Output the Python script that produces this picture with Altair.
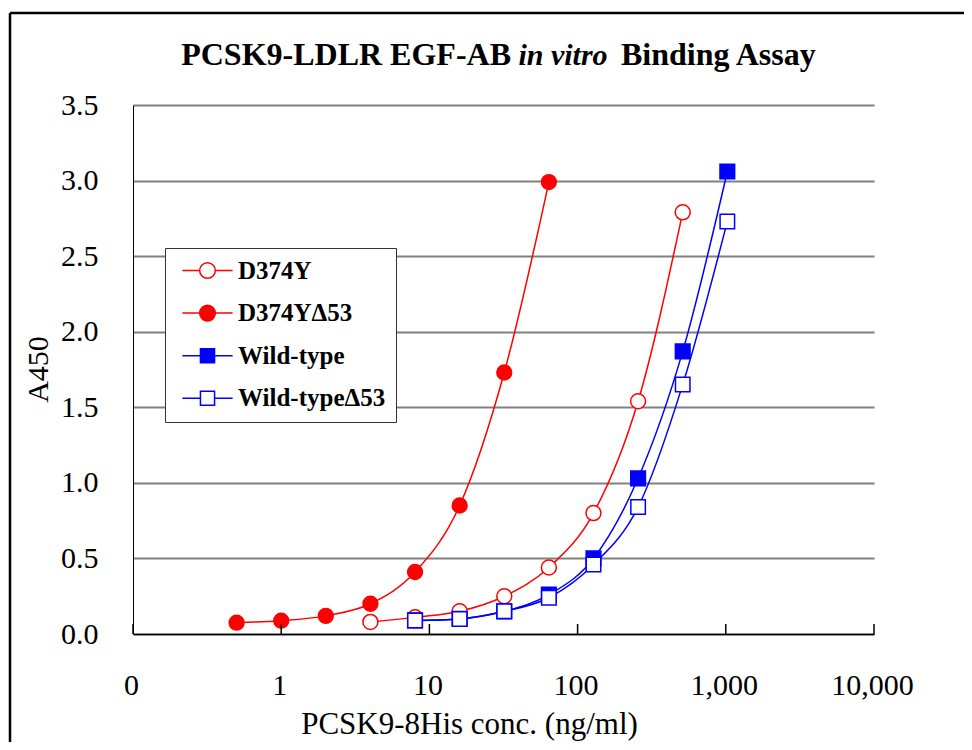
import altair as alt
import pandas as pd

# ---- data ----
series_names = ["D374Y", "D374YΔ53", "Wild-type", "Wild-typeΔ53"]

conc_d374y = [4, 8, 16, 32, 64, 128, 256, 512]
a450_d374y = [0.08, 0.11, 0.15, 0.25, 0.44, 0.80, 1.54, 2.79]

conc_d374y_d53 = [0.5, 1, 2, 4, 8, 16, 32, 64]
a450_d374y_d53 = [0.075, 0.088, 0.12, 0.20, 0.41, 0.85, 1.73, 2.99]

conc_wt = [8, 16, 32, 64, 128, 256, 512, 1024]
a450_wt = [0.09, 0.10, 0.15, 0.26, 0.50, 1.03, 1.87, 3.06]

conc_wt_d53 = [8, 16, 32, 64, 128, 256, 512, 1024]
a450_wt_d53 = [0.09, 0.10, 0.15, 0.24, 0.46, 0.84, 1.65, 2.73]

x_ticks = [0.1, 1, 10, 100, 1000, 10000]
y_ticks = [0, 0.5, 1.0, 1.5, 2.0, 2.5, 3.0, 3.5]

# ---- styles ----
FONT = "Liberation Serif"
series_stroke = ["#FF0000", "#FF0000", "#0000FF", "#0000FF"]
series_fill = ["#FFFFFF", "#FF0000", "#0000FF", "#FFFFFF"]
series_shape = ["circle", "circle", "square", "square"]
series_size = [225, 210, 205, 170]
legend_shapes = [
    "M-3.2,0L-1,0M1,0L3.2,0M1,0A1,1,0,1,1,-1,0A1,1,0,1,1,1,0Z",
    "M-3.2,0L-1,0M1,0L3.2,0M1,0A1,1,0,1,1,-1,0A1,1,0,1,1,1,0Z",
    "M-3.2,0L-0.9,0M0.9,0L3.2,0M-0.9,-0.9L0.9,-0.9L0.9,0.9L-0.9,0.9Z",
    "M-3.2,0L-0.9,0M0.9,0L3.2,0M-0.9,-0.9L0.9,-0.9L0.9,0.9L-0.9,0.9Z",
]

rows = []
for name, xs, ys in [
    (series_names[0], conc_d374y, a450_d374y),
    (series_names[1], conc_d374y_d53, a450_d374y_d53),
    (series_names[2], conc_wt, a450_wt),
    (series_names[3], conc_wt_d53, a450_wt_d53),
]:
    for i, (xv, yv) in enumerate(zip(xs, ys)):
        rows.append({"series": name, "conc": xv, "a450": yv, "order": i})
df = pd.DataFrame(rows)

W, H = 741, 529

x_enc = alt.X(
    "conc:Q",
    scale=alt.Scale(type="log", domain=[0.1, 10000], nice=False),
    axis=alt.Axis(
        values=x_ticks, format=",.0f", grid=False, ticks=False, tickSize=0,
        domainColor="black", domainWidth=1.5,
        labelFont=FONT, labelFontSize=30, labelColor="black",
        labelBaseline="alphabetic", labelPadding=60, labelFlush=False,
        labelOverlap=False, labelOffset=-2,
        title="PCSK9-8His conc. (ng/ml)", titleFont=FONT, titleFontSize=31,
        titleFontWeight="normal", titleColor="black",
        titleX=336, titleY=99, titleAlign="center", titleBaseline="alphabetic",
    ),
)
y_enc = alt.Y(
    "a450:Q",
    scale=alt.Scale(domain=[0, 3.5], nice=False, zero=False),
    axis=alt.Axis(
        values=y_ticks, format=".1f", grid=True, gridColor="#808080", gridWidth=2,
        ticks=False, tickSize=0, domainColor="black", domainWidth=1,
        labelFont=FONT, labelFontSize=30, labelColor="black",
        labelPadding=35, labelFlush=False, labelOverlap=False,
        title="A450", titleFont=FONT, titleFontSize=30, titleFontWeight="normal",
        titleColor="black", titleAngle=270, titleX=-86, titleY=264,
        titleAlign="center", titleBaseline="alphabetic",
    ),
)

stroke_scale = alt.Scale(domain=series_names, range=series_stroke)
fill_scale = alt.Scale(domain=series_names, range=series_fill)

lines = alt.Chart(df).mark_line(interpolate="monotone", strokeWidth=1.5).encode(
    x=x_enc, y=y_enc,
    stroke=alt.Stroke("series:N", scale=stroke_scale, legend=None),
    detail="series:N",
    order="order:Q",
)

points = alt.Chart(df).mark_point(strokeWidth=1.5, opacity=1).encode(
    x=x_enc, y=y_enc,
    stroke=alt.Stroke("series:N", scale=stroke_scale, legend=None),
    fill=alt.Fill("series:N", scale=fill_scale, legend=None),
    shape=alt.Shape("series:N", scale=alt.Scale(domain=series_names, range=series_shape), legend=None),
    size=alt.Size("series:N", scale=alt.Scale(domain=series_names, range=series_size), legend=None),
)

legend_props = dict(
    title=None, orient="none", legendX=32, legendY=143,
    fillColor="white", strokeColor="#333333", padding=10,
    labelFont=FONT, labelFontSize=25, labelFontWeight="bold", labelColor="black",
    labelLimit=400, symbolSize=246, symbolStrokeWidth=1.5,
    symbolOffset=20, labelOffset=18, rowPadding=16.6,
)
legend_layer = alt.Chart(df).transform_filter("false").mark_point(strokeWidth=1.5, opacity=1).encode(
    x=x_enc, y=y_enc,
    stroke=alt.Stroke("series:N", scale=stroke_scale, legend=alt.Legend(**legend_props)),
    fill=alt.Fill("series:N", scale=fill_scale, legend=alt.Legend(**legend_props)),
    shape=alt.Shape("series:N", scale=alt.Scale(domain=series_names, range=legend_shapes),
                    legend=alt.Legend(**legend_props)),
)

ticks = alt.Chart(pd.DataFrame({"conc": x_ticks})).mark_rule(color="black", strokeWidth=1.5).encode(
    x=x_enc, y=alt.value(H), y2=alt.value(H - 10)
)

one = alt.Data(values=[{}])
frame_top = alt.Chart(one).mark_rule(color="black", strokeWidth=2.5).encode(
    x=alt.value(-123), x2=alt.value(900), y=alt.value(-92)
)
frame_left = alt.Chart(one).mark_rule(color="black", strokeWidth=2.5).encode(
    x=alt.value(-123), y=alt.value(-92), y2=alt.value(700)
)

title1 = alt.Chart(one).mark_text(
    text="PCSK9-LDLR EGF-AB", font=FONT, fontSize=32, fontWeight="bold",
    align="right", baseline="alphabetic", color="black",
).encode(x=alt.value(378), y=alt.value(-40))
title2 = alt.Chart(one).mark_text(
    text="in vitro", font=FONT, fontSize=30, fontWeight="bold", fontStyle="italic",
    align="center", baseline="alphabetic", color="black",
).encode(x=alt.value(430), y=alt.value(-40))
title3 = alt.Chart(one).mark_text(
    text="Binding Assay", font=FONT, fontSize=32, fontWeight="bold",
    align="left", baseline="alphabetic", color="black",
).encode(x=alt.value(488), y=alt.value(-40))

chart = alt.layer(
    lines, points, ticks, legend_layer, frame_top, frame_left, title1, title2, title3
).resolve_scale(
    stroke="independent", fill="independent", shape="independent", size="independent"
).properties(
    width=W, height=H,
    autosize=alt.AutoSizeParams(type="none"),
    padding={"left": 125, "top": 97, "right": 90, "bottom": 108},
    background="white",
).configure_view(stroke=None)

chart.save("out.html", embed_options={"renderer": "svg", "actions": False})
